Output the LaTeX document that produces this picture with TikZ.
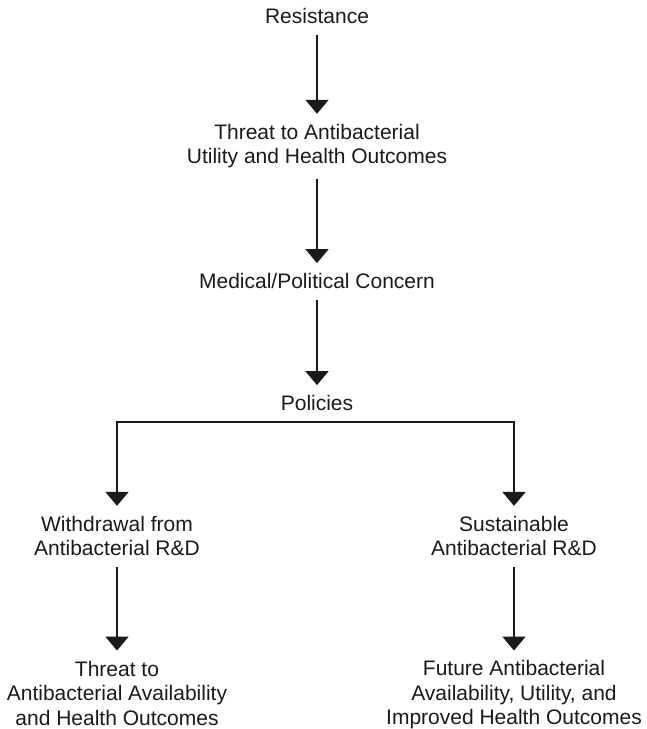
\documentclass[tikz,border=0pt]{standalone}
\usepackage{fontspec}
\setmainfont{Liberation Sans}
\usetikzlibrary{arrows.meta}
\definecolor{ink}{HTML}{1A1A1A}
\tikzset{
  label text/.style={align=center,inner sep=0pt,text=ink,font=\fontsize{21}{24.5}\selectfont},
  flow/.style={draw=ink,line width=2pt,-{Triangle[width=23pt,length=14pt]},shorten <=11pt,shorten >=10pt}
}

\begin{document}
\begin{tikzpicture}[x=1pt, y=-1pt]
            \useasboundingbox (0,0) rectangle (646,729);
            \node[label text] (Res) at (317,16)  {Resistance};
            \node[label text] (Thr) at (317,146)  {Threat to Antibacterial\\Utility and Health Outcomes};
            \node[label text] (Med) at (317,281)  {Medical/Political Concern};
            \node[label text] (Pol) at (317,403)  {Policies};
            \node[label text] (Wd) at (117,536)  {Withdrawal from\\Antibacterial R\&D};
            \node[label text] (Su) at (514,536)  {Sustainable\\Antibacterial R\&D};
            \node[label text] (ThrB) at (117,693)  {Threat to\\Antibacterial Availability\\and Health Outcomes};
            \node[label text] (Fut) at (514,695)  {Future Antibacterial\\Availability, Utility, and\\Improved Health Outcomes};
            \coordinate (BL) at (117,422);
            \coordinate (BR) at (514,422);

            \draw[flow] (Res) -- (Thr);
            \draw[flow] (Thr) -- (Med);
            \draw[flow] (Med) -- (Pol);
            \draw[draw=ink,line width=2pt,line cap=rect] (BL) -- (BR);
            \draw[flow,shorten <=0pt] (BL) -- (Wd);
            \draw[flow,shorten <=0pt] (BR) -- (Su);
            \draw[flow] (Wd) -- (ThrB);
            \draw[flow] (Su) -- (Fut);
        \end{tikzpicture}
\end{document}
